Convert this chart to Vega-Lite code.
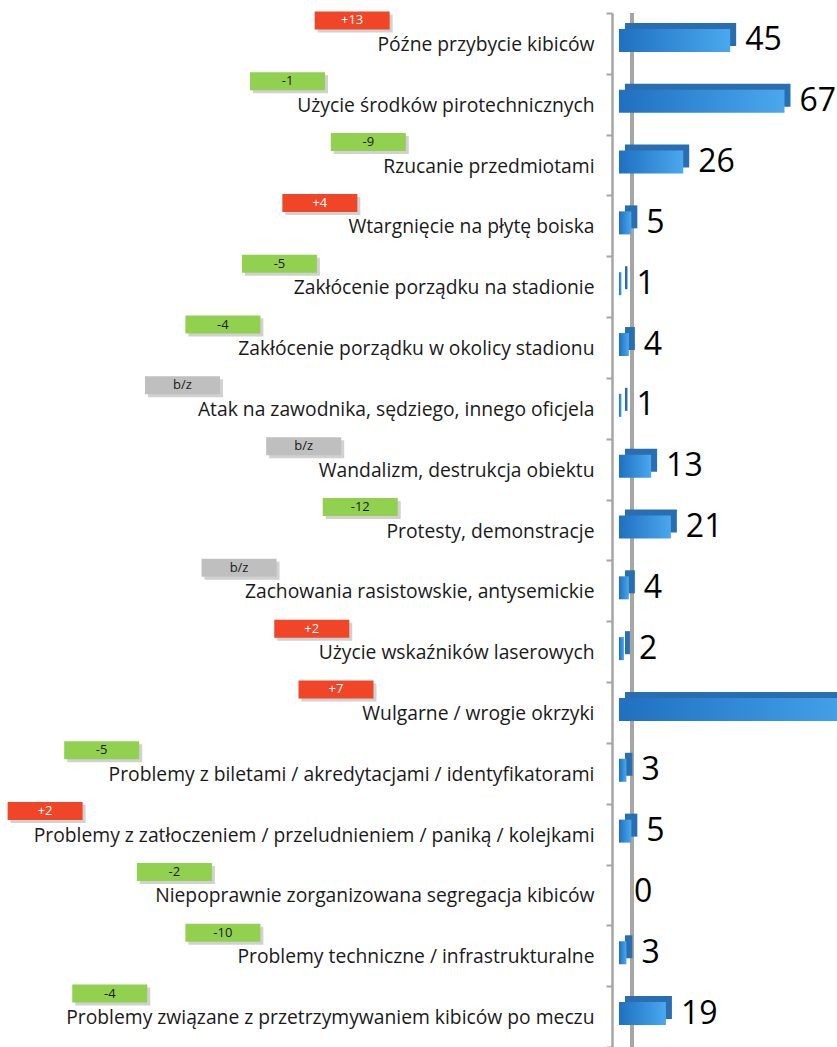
{
  "$schema": "https://vega.github.io/schema/vega-lite/v6.json",
  "width": 225,
  "height": 1034,
  "autosize": {"type": "none"},
  "padding": {"left": 612, "top": 13, "right": 0, "bottom": 0},
  "background": "white",
  "config": {
    "view": {"stroke": null},
    "font": "Open Sans",
    "axisY": {
      "title": null,
      "domainColor": "#a6a6a6",
      "domainWidth": 2.5,
      "tickColor": "#a6a6a6",
      "tickWidth": 2,
      "tickSize": 6,
      "tickBand": "extent",
      "labelFont": "Open Sans",
      "labelFontSize": 19.3,
      "labelColor": "#1a1a1a",
      "labelPadding": 12,
      "labelLimit": 0,
      "labelOffset": 1
    }
  },
  "data": {
    "values": [
      {"label": "Późne przybycie kibiców", "value": 45, "change": "+13", "trend": "up"},
      {"label": "Użycie środków pirotechnicznych", "value": 67, "change": "-1", "trend": "down"},
      {"label": "Rzucanie przedmiotami", "value": 26, "change": "-9", "trend": "down"},
      {"label": "Wtargnięcie na płytę boiska", "value": 5, "change": "+4", "trend": "up"},
      {"label": "Zakłócenie porządku na stadionie", "value": 1, "change": "-5", "trend": "down"},
      {"label": "Zakłócenie porządku  w okolicy stadionu", "value": 4, "change": "-4", "trend": "down"},
      {"label": "Atak na zawodnika, sędziego, innego oficjela", "value": 1, "change": "b/z", "trend": "none"},
      {"label": "Wandalizm, destrukcja obiektu", "value": 13, "change": "b/z", "trend": "none"},
      {"label": "Protesty, demonstracje", "value": 21, "change": "-12", "trend": "down"},
      {"label": "Zachowania rasistowskie, antysemickie", "value": 4, "change": "b/z", "trend": "none"},
      {"label": "Użycie wskaźników laserowych", "value": 2, "change": "+2", "trend": "up"},
      {"label": "Wulgarne / wrogie okrzyki", "value": 105, "change": "+7", "trend": "up"},
      {"label": "Problemy z biletami / akredytacjami / identyfikatorami", "value": 3, "change": "-5", "trend": "down"},
      {"label": "Problemy z zatłoczeniem / przeludnieniem / paniką / kolejkami", "value": 5, "change": "+2", "trend": "up"},
      {"label": "Niepoprawnie zorganizowana segregacja kibiców", "value": 0, "change": "-2", "trend": "down"},
      {"label": "Problemy techniczne / infrastrukturalne", "value": 3, "change": "-10", "trend": "down"},
      {"label": "Problemy związane z przetrzymywaniem kibiców po meczu", "value": 19, "change": "-4", "trend": "down"}
    ]
  },
  "transform": [{"calculate": "length(datum.label)", "as": "len"}],
  "layer": [
    {
      "mark": {"type": "rule", "color": "#a6a6a6", "strokeWidth": 2.5},
      "encoding": {
        "x": {"datum": 5.27, "type": "quantitative", "scale": {"domain": [-2.83, 88.26], "nice": false, "zero": false}, "axis": null}
      }
    },
    {
      "mark": {"type": "bar", "height": 23, "xOffset": 6, "yOffset": -9, "color": "#2a6eb2", "clip": true},
      "encoding": {
        "y": {"field": "label", "type": "nominal", "sort": null, "scale": {"paddingInner": 0, "paddingOuter": 0}},
        "x": {"field": "value", "type": "quantitative", "scale": {"domain": [-2.83, 88.26], "nice": false, "zero": false}, "axis": null}
      }
    },
    {
      "mark": {
        "type": "bar",
        "height": 23,
        "yOffset": -3,
        "clip": true,
        "color": {
          "gradient": "linear", "x1": 0, "y1": 0, "x2": 1, "y2": 0,
          "stops": [{"offset": 0, "color": "#1f70c0"}, {"offset": 1, "color": "#4aa8ee"}]
        }
      },
      "encoding": {
        "y": {"field": "label", "type": "nominal", "sort": null, "scale": {"paddingInner": 0, "paddingOuter": 0}},
        "x": {"field": "value", "type": "quantitative", "scale": {"domain": [-2.83, 88.26], "nice": false, "zero": false}, "axis": null}
      }
    },
    {
      "transform": [{"filter": "datum.value < 80"}],
      "mark": {"type": "text", "align": "left", "baseline": "middle", "dx": 15, "yOffset": -3, "fontSize": 32, "font": "Open Sans", "color": "#000000", "clip": true},
      "encoding": {
        "y": {"field": "label", "type": "nominal", "sort": null, "scale": {"paddingInner": 0, "paddingOuter": 0}},
        "x": {"field": "value", "type": "quantitative", "scale": {"domain": [-2.83, 88.26], "nice": false, "zero": false}, "axis": null},
        "text": {"field": "value", "type": "quantitative"}
      }
    },
    {
      "mark": {"type": "point", "shape": "M-1,-0.24H1V0.24H-1Z", "size": 5625, "filled": true, "color": "#9a9a9a", "opacity": 0.45, "xOffset": 3, "yOffset": -20},
      "encoding": {
        "y": {"field": "label", "type": "nominal", "sort": null, "scale": {"paddingInner": 0, "paddingOuter": 0}},
        "x": {"field": "len", "type": "quantitative", "scale": {"domain": [0, 100], "range": [-74, -882], "nice": false, "zero": false}, "axis": null}
      }
    },
    {
      "mark": {"type": "point", "shape": "M-1,-0.24H1V0.24H-1Z", "size": 5625, "filled": true, "opacity": 1, "yOffset": -23},
      "encoding": {
        "y": {"field": "label", "type": "nominal", "sort": null, "scale": {"paddingInner": 0, "paddingOuter": 0}},
        "x": {"field": "len", "type": "quantitative", "scale": {"domain": [0, 100], "range": [-74, -882], "nice": false, "zero": false}, "axis": null},
        "color": {"field": "trend", "type": "nominal", "scale": {"domain": ["up", "down", "none"], "range": ["#f04526", "#92d050", "#bfbfbf"]}, "legend": null}
      }
    },
    {
      "mark": {"type": "text", "align": "center", "baseline": "middle", "yOffset": -23, "fontSize": 13, "font": "Open Sans"},
      "encoding": {
        "y": {"field": "label", "type": "nominal", "sort": null, "scale": {"paddingInner": 0, "paddingOuter": 0}},
        "x": {"field": "len", "type": "quantitative", "scale": {"domain": [0, 100], "range": [-74, -882], "nice": false, "zero": false}, "axis": null},
        "text": {"field": "change", "type": "nominal"},
        "color": {"condition": {"test": "datum.trend === 'up'", "value": "#ffffff"}, "value": "#1a1a1a"}
      }
    }
  ],
  "resolve": {"scale": {"x": "independent", "color": "independent"}}
}
